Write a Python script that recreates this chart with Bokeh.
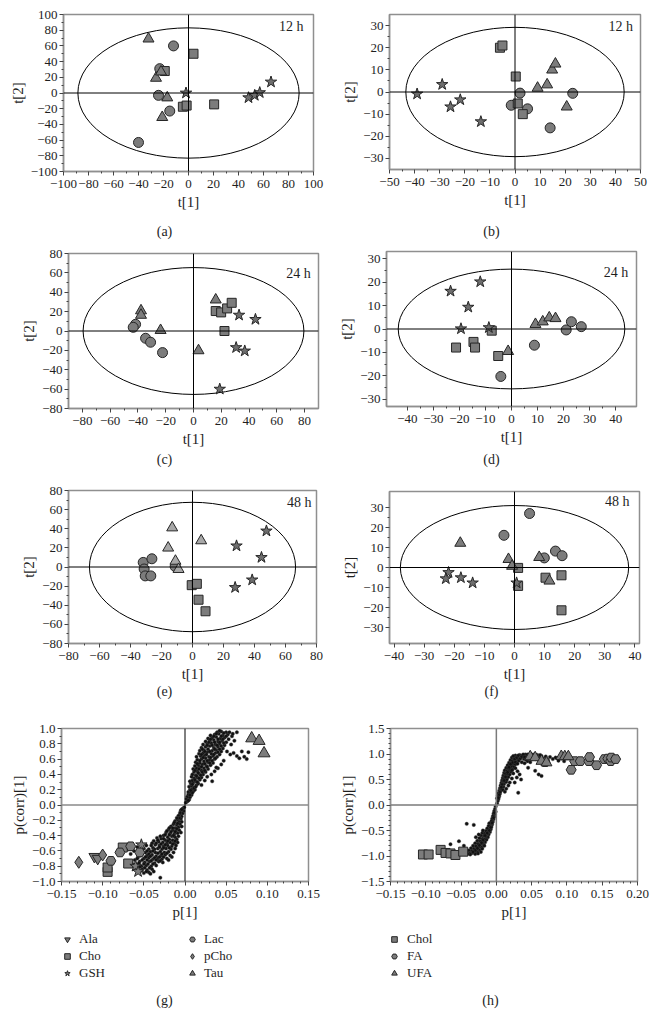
from bokeh.plotting import figure
from bokeh.layouts import column, row
from bokeh.models import (Span, Label, FixedTicker, CustomJSTickFormatter,
                          Legend, LegendItem, ColumnDataSource, Range1d)
from bokeh.embed import file_html
from bokeh.resources import INLINE

# ---------------- data ----------------
a_circles = [(-12, 60), (-23, 31), (-24, -3), (-15, -23), (-40, -63)]
a_squares = [(4, 50), (-19, 28), (-4.5, -17.5), (-1.5, -16), (20.5, -14.5)]
a_triangles = [(-32, 69), (-26, 19), (-22, 27), (-17, -6), (-21, -31)]
a_stars = [(-2, 0), (48, -6), (53, -3), (57, 0.5), (66, 14)]

b_circles = [(2, -0.5), (-1.5, -6), (5, -7.6), (14, -16.2), (23, -0.6)]
b_squares = [(-6, 20), (-5, 21), (0.3, 7), (1.1, -5.2), (3.1, -10)]
b_triangles = [(9, 1.8), (12.8, 3.3), (14.8, 10), (16.1, 12.7), (20.6, -6.7)]
b_stars = [(-39, -0.9), (-29, 3.4), (-25.7, -6.7), (-21.8, -3.5), (-13.6, -13.4)]

c_circles = [(-41.7, 6.9), (-43.4, 3.8), (-34.5, -7.5), (-30.9, -11.6), (-22.3, -22.3)]
c_squares = [(16, 20.6), (19.9, 19.2), (24.2, 23.3), (27.5, 29.1), (22.3, 0)]
c_triangles = [(-37.8, 21), (-37.8, 16.4), (-23.7, 0.7), (3.6, -20.2), (16, 32.2)]
c_stars = [(32.8, 16.4), (44.6, 12), (30.7, -17.1), (36.9, -20.6), (18.9, -60)]

d_circles = [(-4.1, -20.2), (8.8, -6.9), (21, -0.4), (23, 3.1), (26.8, 1)]
d_squares = [(-21.3, -7.9), (-14.6, -5.5), (-14, -7.9), (-7.6, -0.7), (-5.1, -11.5)]
d_triangles = [(-1.3, -9.5), (9.2, 2), (12, 3.1), (14.5, 4.8), (16.9, 4.5)]
d_stars = [(-23.4, 16.1), (-12, 20.1), (-16.6, 9.3), (-19.4, 0.1), (-8.7, 0.6)]

e_circles = [(-31.8, 4.8), (-26.2, 8.6), (-31.2, -2.1), (-30.5, -9.3), (-26.9, -9.3), (-11.2, 0.5)]
e_squares = [(-0.5, -19), (2.8, -17.6), (3.9, -34.2), (8.4, -46.3)]
e_triangles = [(-13.1, 41.1), (-15.7, 20), (-11, 6.2), (-9, -2.4), (5.6, 27.6)]
e_stars = [(28.4, 22.1), (47.7, 37.7), (44.5, 10), (38.5, -13.5), (27.5, -21.4)]

f_circles = [(5, 27), (-3.5, 16.1), (9.9, 4.8), (13.6, 8.2), (15.8, 5.9)]
f_squares = [(1.2, -0.2), (10.3, -5.1), (15.6, -3.9), (15.6, -21.4), (1.2, -9.2)]
f_triangles = [(-18, 12.2), (-2, 4.1), (-0.8, 0.7), (8.2, 5.1), (11.6, -6.7)]
f_stars = [(-21.9, -2.5), (-22.8, -5.6), (-17.8, -5.1), (-13.9, -7.7), (0.7, -7.7)]

# Hotelling ellipse semi-axes per panel (x, y)
ellipses = {"a": (88.5, 83), "b": (43.5, 29.2), "c": (79.5, 65.5),
            "d": (43.5, 25.5), "e": (66.5, 67.7), "f": (37.9, 31)}
time_labels = {"a": "12 h", "b": "12 h", "c": "24 h", "d": "24 h", "e": "48 h", "f": "48 h"}

# S-plot (g)
g_ala = [(-0.110, -0.675), (-0.106, -0.70)]
g_cho = [(-0.094, -0.874), (-0.094, -0.817), (-0.069, -0.765), (-0.0756, -0.556)]
g_gsh = [(-0.060, -0.80), (-0.057, -0.87), (-0.053, -0.52)]
g_lac = [(-0.066, -0.54), (-0.090, -0.73), (-0.079, -0.62), (-0.055, -0.62)]
g_pcho = [(-0.129, -0.749), (-0.100, -0.654)]
g_tau = [(0.081, 0.871), (0.090, 0.837), (0.096, 0.675)]
g_dots = [
    (0.001, 0.03), (0.003, 0.05), (0.002, 0.08), (0.005, 0.07), (0.003, 0.11), (0.006, 0.10),
    (0.004, 0.14), (0.008, 0.13), (0.004, 0.17), (0.007, 0.16), (0.010, 0.18), (0.006, 0.20),
    (0.009, 0.21), (0.012, 0.20), (0.005, 0.24), (0.008, 0.25), (0.011, 0.23), (0.014, 0.26),
    (0.007, 0.28), (0.010, 0.29), (0.016, 0.28), (0.006, 0.31), (0.009, 0.32), (0.013, 0.31),
    (0.018, 0.33), (0.011, 0.35), (0.015, 0.36), (0.008, 0.37), (0.020, 0.36), (0.009, 0.40),
    (0.013, 0.39), (0.017, 0.41), (0.022, 0.40), (0.011, 0.43), (0.015, 0.44), (0.020, 0.45),
    (0.025, 0.43), (0.010, 0.47), (0.014, 0.48), (0.018, 0.49), (0.023, 0.48), (0.028, 0.47),
    (0.012, 0.51), (0.016, 0.52), (0.021, 0.53), (0.026, 0.51), (0.031, 0.52), (0.013, 0.56),
    (0.018, 0.55), (0.023, 0.57), (0.028, 0.56), (0.034, 0.55), (0.015, 0.59), (0.020, 0.60),
    (0.025, 0.61), (0.030, 0.59), (0.036, 0.60), (0.014, 0.63), (0.019, 0.64), (0.024, 0.65),
    (0.029, 0.63), (0.034, 0.64), (0.039, 0.63), (0.017, 0.67), (0.022, 0.68), (0.027, 0.69),
    (0.032, 0.67), (0.037, 0.68), (0.042, 0.66), (0.018, 0.71), (0.023, 0.72), (0.028, 0.73),
    (0.033, 0.71), (0.038, 0.72), (0.044, 0.70), (0.020, 0.75), (0.025, 0.76), (0.030, 0.77),
    (0.035, 0.75), (0.040, 0.76), (0.046, 0.74), (0.022, 0.79), (0.027, 0.80), (0.032, 0.81),
    (0.037, 0.79), (0.042, 0.80), (0.048, 0.78), (0.025, 0.83), (0.030, 0.84), (0.035, 0.85),
    (0.040, 0.83), (0.045, 0.84), (0.050, 0.82), (0.028, 0.87), (0.033, 0.88), (0.038, 0.89),
    (0.043, 0.87), (0.048, 0.88), (0.031, 0.91), (0.036, 0.92), (0.041, 0.93), (0.046, 0.91),
    (0.052, 0.92), (0.039, 0.95), (0.044, 0.96), (0.050, 0.95), (0.063, 0.95), (0.057, 0.90),
    (0.047, 0.58), (0.051, 0.70), (0.055, 0.66), (0.059, 0.68), (0.063, 0.64), (0.066, 0.61),
    (0.069, 0.70), (0.072, 0.63), (0.077, 0.69), (0.075, 0.60), (0.056, 0.79), (0.060, 0.84),
    (0.053, 0.86), (0.044, 0.53), (0.040, 0.48), (0.036, 0.44), (0.032, 0.40), (0.027, 0.37),
    (0.024, 0.32), (0.020, 0.26), (0.033, 0.31), (0.038, 0.49),
    (0.004, 0.06), (0.006, 0.13), (0.009, 0.16), (0.007, 0.19), (0.011, 0.22), (0.013, 0.24),
    (0.009, 0.27), (0.015, 0.30), (0.012, 0.33), (0.017, 0.35), (0.014, 0.38), (0.019, 0.39),
    (0.016, 0.42), (0.021, 0.43), (0.012, 0.45), (0.024, 0.45), (0.017, 0.47), (0.027, 0.50),
    (0.020, 0.50), (0.015, 0.54), (0.024, 0.54), (0.030, 0.55), (0.018, 0.58), (0.027, 0.58),
    (0.033, 0.58), (0.022, 0.62), (0.031, 0.62), (0.037, 0.61), (0.020, 0.66), (0.026, 0.66),
    (0.035, 0.66), (0.040, 0.69), (0.030, 0.70), (0.024, 0.70), (0.021, 0.73), (0.036, 0.73),
    (0.042, 0.73), (0.027, 0.78), (0.033, 0.78), (0.044, 0.77), (0.039, 0.78), (0.029, 0.82),
    (0.036, 0.82), (0.047, 0.81), (0.042, 0.82), (0.031, 0.86), (0.040, 0.86), (0.046, 0.86),
    (0.035, 0.90), (0.044, 0.90), (0.050, 0.90), (0.038, 0.93), (0.047, 0.94), (0.042, 0.97),
    (0.054, 0.95), (0.058, 0.93),
    (-0.001, -0.03), (-0.003, -0.05), (-0.002, -0.08), (-0.005, -0.07), (-0.003, -0.11),
    (-0.006, -0.12), (-0.004, -0.15), (-0.008, -0.14), (-0.005, -0.18), (-0.009, -0.19),
    (-0.007, -0.22), (-0.012, -0.21), (-0.004, -0.22), (-0.006, -0.25), (-0.010, -0.26),
    (-0.014, -0.25), (-0.008, -0.29), (-0.012, -0.30), (-0.017, -0.28), (-0.004, -0.28),
    (-0.007, -0.33), (-0.011, -0.34), (-0.015, -0.33), (-0.020, -0.32), (-0.009, -0.37),
    (-0.013, -0.38), (-0.018, -0.37), (-0.023, -0.36), (-0.005, -0.36), (-0.008, -0.41),
    (-0.012, -0.42), (-0.016, -0.41), (-0.021, -0.42), (-0.026, -0.40), (-0.010, -0.45),
    (-0.015, -0.46), (-0.019, -0.45), (-0.024, -0.46), (-0.029, -0.44), (-0.034, -0.43),
    (-0.009, -0.49), (-0.013, -0.50), (-0.018, -0.49), (-0.022, -0.50), (-0.027, -0.49),
    (-0.032, -0.48), (-0.038, -0.47), (-0.011, -0.53), (-0.016, -0.54), (-0.021, -0.53),
    (-0.026, -0.54), (-0.031, -0.53), (-0.036, -0.52), (-0.012, -0.57), (-0.017, -0.58),
    (-0.023, -0.57), (-0.028, -0.58), (-0.033, -0.57), (-0.039, -0.56), (-0.044, -0.58),
    (-0.014, -0.62), (-0.020, -0.61), (-0.025, -0.62), (-0.030, -0.61), (-0.036, -0.62),
    (-0.042, -0.61), (-0.048, -0.62), (-0.018, -0.66), (-0.024, -0.65), (-0.029, -0.66),
    (-0.035, -0.67), (-0.040, -0.65), (-0.046, -0.66), (-0.052, -0.64), (-0.022, -0.70),
    (-0.028, -0.71), (-0.033, -0.70), (-0.039, -0.71), (-0.044, -0.69), (-0.050, -0.70),
    (-0.057, -0.68), (-0.027, -0.75), (-0.032, -0.74), (-0.037, -0.76), (-0.043, -0.74),
    (-0.049, -0.75), (-0.055, -0.74), (-0.061, -0.72), (-0.035, -0.79), (-0.041, -0.80),
    (-0.047, -0.79), (-0.053, -0.80), (-0.059, -0.78), (-0.064, -0.77), (-0.040, -0.84),
    (-0.046, -0.85), (-0.052, -0.84), (-0.058, -0.83), (-0.044, -0.88), (-0.050, -0.89),
    (-0.038, -0.87), (-0.030, -0.95), (-0.066, -0.64), (-0.069, -0.58), (-0.062, -0.60),
    (-0.058, -0.55), (-0.050, -0.57), (-0.047, -0.53), (-0.040, -0.50), (-0.020, -0.72),
    (-0.016, -0.68),
    (-0.004, -0.06), (-0.006, -0.10), (-0.007, -0.17), (-0.010, -0.17), (-0.009, -0.24),
    (-0.013, -0.23), (-0.010, -0.31), (-0.015, -0.30), (-0.019, -0.30), (-0.012, -0.35),
    (-0.017, -0.35), (-0.022, -0.34), (-0.014, -0.40), (-0.019, -0.39), (-0.024, -0.39),
    (-0.030, -0.41), (-0.012, -0.47), (-0.021, -0.47), (-0.026, -0.44), (-0.033, -0.46),
    (-0.015, -0.51), (-0.024, -0.52), (-0.029, -0.51), (-0.035, -0.50), (-0.041, -0.53),
    (-0.019, -0.56), (-0.026, -0.56), (-0.031, -0.55), (-0.037, -0.58), (-0.046, -0.60),
    (-0.022, -0.63), (-0.028, -0.64), (-0.033, -0.63), (-0.039, -0.60), (-0.044, -0.64),
    (-0.054, -0.66), (-0.026, -0.68), (-0.031, -0.68), (-0.037, -0.69), (-0.042, -0.67),
    (-0.048, -0.68), (-0.030, -0.73), (-0.035, -0.72), (-0.041, -0.73), (-0.046, -0.72),
    (-0.052, -0.72), (-0.058, -0.70), (-0.039, -0.77), (-0.045, -0.77), (-0.050, -0.77),
    (-0.056, -0.76), (-0.043, -0.82), (-0.049, -0.82), (-0.055, -0.81), (-0.047, -0.87),
    (-0.053, -0.86), (-0.042, -0.90),
]

# S-plot (h)
h_chol = [(-0.104, -0.97), (-0.096, -0.97), (-0.079, -0.88), (-0.072, -0.94),
          (-0.065, -0.95), (-0.058, -0.98), (-0.047, -0.915)]
h_fa = [(0.106, 0.69), (0.111, 0.86), (0.119, 0.86), (0.131, 0.86), (0.132, 0.94),
        (0.142, 0.78), (0.069, 0.84), (0.153, 0.90), (0.158, 0.91), (0.162, 0.86),
        (0.163, 0.93), (0.169, 0.90)]
h_ufa = [(0.048, 0.948), (0.055, 0.93), (0.064, 0.86), (0.071, 0.83), (0.092, 0.954),
         (0.097, 0.95), (0.102, 0.95)]
h_dots = [
    (0.001, 0.03), (0.002, 0.08), (0.001, 0.13), (0.003, 0.12), (0.002, 0.18), (0.004, 0.17),
    (0.003, 0.23), (0.005, 0.22), (0.004, 0.28), (0.006, 0.27), (0.005, 0.33), (0.007, 0.32),
    (0.009, 0.30), (0.006, 0.38), (0.008, 0.37), (0.010, 0.36), (0.007, 0.43), (0.009, 0.42),
    (0.011, 0.41), (0.008, 0.48), (0.010, 0.47), (0.012, 0.46), (0.014, 0.45), (0.009, 0.53),
    (0.011, 0.52), (0.013, 0.51), (0.015, 0.50), (0.010, 0.58), (0.012, 0.57), (0.014, 0.56),
    (0.017, 0.55), (0.011, 0.63), (0.013, 0.62), (0.016, 0.61), (0.019, 0.60), (0.012, 0.68),
    (0.015, 0.67), (0.018, 0.66), (0.021, 0.65), (0.014, 0.73), (0.017, 0.72), (0.020, 0.71),
    (0.023, 0.70), (0.016, 0.78), (0.019, 0.77), (0.022, 0.76), (0.025, 0.75), (0.018, 0.83),
    (0.021, 0.82), (0.024, 0.81), (0.027, 0.80), (0.020, 0.88), (0.023, 0.87), (0.026, 0.86),
    (0.029, 0.85), (0.022, 0.93), (0.025, 0.92), (0.028, 0.91), (0.031, 0.90),
    (0.027, 0.97), (0.030, 0.95), (0.033, 0.98), (0.035, 0.93), (0.037, 0.97), (0.039, 0.90),
    (0.041, 0.99), (0.043, 0.94), (0.045, 0.97), (0.047, 0.91), (0.049, 0.98), (0.051, 0.94),
    (0.053, 0.97), (0.056, 0.90), (0.058, 0.98), (0.061, 0.93), (0.064, 0.96), (0.067, 0.91),
    (0.070, 0.95), (0.073, 0.88), (0.076, 0.94), (0.080, 0.90), (0.084, 0.93), (0.088, 0.87),
    (0.092, 0.91), (0.096, 0.86), (0.032, 0.87), (0.036, 0.84), (0.040, 0.82), (0.044, 0.86),
    (0.048, 0.84), (0.027, 0.72), (0.030, 0.66), (0.033, 0.60), (0.029, 0.54), (0.035, 0.50),
    (0.031, 0.24), (0.060, 0.60), (0.064, 0.57), (0.055, 0.67), (0.045, 0.73), (0.024, 0.62),
    (0.022, 0.52), (0.019, 0.44), (0.017, 0.38), (0.014, 0.32), (0.012, 0.26), (0.026, 0.44),
    (0.024, 0.96), (0.026, 0.90), (0.029, 0.93), (0.031, 0.97), (0.034, 0.91), (0.036, 0.95),
    (0.038, 0.99), (0.040, 0.94), (0.042, 0.89), (0.044, 0.99), (0.046, 0.94), (0.048, 0.96),
    (0.050, 0.90), (0.052, 0.99), (0.054, 0.93), (0.057, 0.95), (0.059, 0.91), (0.062, 0.98),
    (0.023, 0.83), (0.027, 0.84), (0.030, 0.81), (0.020, 0.80), (0.018, 0.74), (0.022, 0.68),
    (0.016, 0.64), (0.013, 0.55), (0.011, 0.48), (0.008, 0.40), (0.007, 0.35), (0.005, 0.25),
    (0.004, 0.20), (0.003, 0.14),
    (-0.001, -0.03), (-0.002, -0.08), (-0.001, -0.13), (-0.003, -0.12), (-0.002, -0.18),
    (-0.004, -0.17), (-0.003, -0.23), (-0.005, -0.22), (-0.004, -0.28), (-0.006, -0.27),
    (-0.005, -0.33), (-0.007, -0.32), (-0.006, -0.38), (-0.008, -0.37), (-0.010, -0.36),
    (-0.007, -0.43), (-0.009, -0.42), (-0.011, -0.41), (-0.008, -0.48), (-0.010, -0.47),
    (-0.013, -0.46), (-0.009, -0.53), (-0.012, -0.52), (-0.015, -0.51), (-0.011, -0.58),
    (-0.014, -0.57), (-0.017, -0.56), (-0.020, -0.55), (-0.012, -0.63), (-0.015, -0.62),
    (-0.018, -0.61), (-0.022, -0.60), (-0.014, -0.68), (-0.017, -0.67), (-0.020, -0.66),
    (-0.024, -0.65), (-0.016, -0.73), (-0.019, -0.72), (-0.023, -0.71), (-0.027, -0.70),
    (-0.018, -0.78), (-0.022, -0.77), (-0.026, -0.76), (-0.030, -0.75), (-0.021, -0.83),
    (-0.025, -0.82), (-0.029, -0.81), (-0.033, -0.80), (-0.024, -0.88), (-0.028, -0.87),
    (-0.032, -0.86), (-0.036, -0.85), (-0.022, -0.92), (-0.027, -0.92), (-0.031, -0.91),
    (-0.035, -0.90), (-0.039, -0.89), (-0.026, -0.95), (-0.030, -0.96), (-0.034, -0.94),
    (-0.038, -0.95), (-0.042, -0.93), (-0.045, -0.92), (-0.032, -0.39), (-0.042, -0.37),
    (-0.053, -0.71), (-0.065, -0.77), (-0.046, -0.80), (-0.019, -0.50), (-0.025, -0.58),
    (-0.029, -0.63),
    (-0.003, -0.15), (-0.004, -0.25), (-0.006, -0.35), (-0.008, -0.44), (-0.010, -0.50),
    (-0.013, -0.55), (-0.016, -0.60), (-0.019, -0.69), (-0.021, -0.74), (-0.024, -0.79),
    (-0.027, -0.85), (-0.030, -0.89), (-0.033, -0.92), (-0.037, -0.97), (-0.041, -0.96),
    (-0.020, -0.86), (-0.017, -0.80),
]

# tick values
a_xticks = list(range(-100, 101, 20)); a_yticks = list(range(-100, 101, 20))
b_xticks = list(range(-50, 51, 10)); b_yticks = list(range(-30, 31, 10))
c_xticks = list(range(-80, 81, 20)); c_yticks = list(range(-80, 81, 20))
d_xticks = list(range(-40, 41, 10)); d_yticks = list(range(-30, 31, 10))
e_xticks = list(range(-80, 81, 20)); e_yticks = list(range(-80, 81, 20))
f_xticks = list(range(-40, 41, 10)); f_yticks = list(range(-30, 31, 10))
g_xticks = [-0.15, -0.10, -0.05, 0.0, 0.05, 0.10, 0.15]
g_yticks = [-1.0, -0.8, -0.6, -0.4, -0.2, 0.0, 0.2, 0.4, 0.6, 0.8, 1.0]
h_xticks = [-0.15, -0.10, -0.05, 0.0, 0.05, 0.10, 0.15, 0.20]
h_yticks = [-1.5, -1.0, -0.5, 0.0, 0.5, 1.0, 1.5]

# ---------------- styling ----------------
SERIF = "Liberation Serif"
FILL = "#7c7c7c"
LIGHT = "#a8a8a8"
LINE = "#262626"
FRAME = "#8f8f8f"
TXT = "#1e1e1e"


def minors(ticks, n):
    out = []
    for a, b in zip(ticks[:-1], ticks[1:]):
        for k in range(1, n + 1):
            out.append(a + (b - a) * k / (n + 1))
    return out


def fmt(dec):
    return CustomJSTickFormatter(args=dict(n=dec), code="""
        const s = tick.toFixed(n);
        if (Number(s) == 0) { return s.replace('-', ''); }
        return s.startsWith('-') ? '\\u2212' + s.slice(1) : s;
    """)


def make_fig(w, h, bl, br, bt, bb, xr, yr, xt, yt, xmin_n, ymin_n, xdec, ydec, xlab, ylab):
    p = figure(width=w, height=h, x_range=Range1d(*xr), y_range=Range1d(*yr),
               output_backend="svg", toolbar_location=None,
               min_border_left=bl, min_border_right=br, min_border_top=bt, min_border_bottom=bb)
    p.xgrid.visible = False
    p.ygrid.visible = False
    p.outline_line_color = FRAME
    p.outline_line_width = 1.5
    p.background_fill_color = "white"
    p.border_fill_color = "white"
    p.xaxis.ticker = FixedTicker(ticks=xt, minor_ticks=minors(xt, xmin_n))
    p.yaxis.ticker = FixedTicker(ticks=yt, minor_ticks=minors(yt, ymin_n))
    p.xaxis.formatter = fmt(xdec)
    p.yaxis.formatter = fmt(ydec)
    p.xaxis.axis_label = xlab
    p.yaxis.axis_label = ylab
    for ax in (p.xaxis[0], p.yaxis[0]):
        ax.axis_line_color = FRAME
        ax.axis_line_width = 1.5
        ax.major_tick_line_color = "#444444"
        ax.minor_tick_line_color = "#444444"
        ax.major_tick_in = 0
        ax.major_tick_out = 4
        ax.minor_tick_in = 0
        ax.minor_tick_out = 2
        ax.major_label_text_font = SERIF
        ax.major_label_text_font_size = "13px"
        ax.major_label_text_color = TXT
        ax.axis_label_text_font = SERIF
        ax.axis_label_text_font_size = "15px"
        ax.axis_label_text_font_style = "normal"
        ax.axis_label_text_color = TXT
    p.xaxis.major_label_standoff = 4
    p.xaxis.axis_label_standoff = 3
    p.yaxis.major_label_standoff = 2
    p.yaxis.axis_label_standoff = 2
    return p


def add_group(p, pts, marker, size, fill=FILL, visible=True):
    src = ColumnDataSource(dict(x=[q[0] for q in pts], y=[q[1] for q in pts]))
    return p.scatter("x", "y", source=src, marker=marker, size=size,
                     fill_color=fill, line_color=LINE, line_width=1, visible=visible)


def blank_fig(height):
    # an empty strip; the column layout aligns its frame with the plot above it
    q = figure(width=328, height=height, x_range=Range1d(0, 1), y_range=Range1d(0, 1),
               output_backend="svg", toolbar_location=None, x_axis_type=None, y_axis_type=None,
               min_border=0)
    q.outline_line_color = None
    q.xgrid.visible = False
    q.ygrid.visible = False
    return q


def add_caption(q, text, x_from_frame_left, y_from_bottom):
    q.add_layout(Label(x=x_from_frame_left, y=y_from_bottom, x_units="screen",
                       y_units="screen", text=text, text_align="center", text_baseline="middle",
                       text_font=SERIF, text_font_size="14px", text_color=TXT))


def score_panel(key, geom, xr, yr, xt, yt, groups, lab_xy, cap_h, cap_x, cap_y, light_tri=False):
    w, h, bl, br, bt, bb = geom
    p = make_fig(w, h, bl, br, bt, bb, xr, yr, xt, yt, 1, 1, 0, 0, "t[1]", "t[2]")
    p.add_layout(Span(location=0, dimension="width", line_color="black", line_width=1))
    p.add_layout(Span(location=0, dimension="height", line_color="black", line_width=1))
    ax, ay = ellipses[key]
    p.ellipse(x=[0], y=[0], width=[2 * ax], height=[2 * ay], fill_alpha=0,
              line_color="black", line_width=1)
    circles, squares, triangles, stars = groups
    add_group(p, circles, "circle", 10)
    add_group(p, squares, "square", 9)
    add_group(p, triangles, "triangle", 11, LIGHT if light_tri else FILL)
    add_group(p, stars, "star", 12, "#6e6e6e")
    p.add_layout(Label(x=lab_xy[0], y=lab_xy[1], text=time_labels[key], text_align="right",
                       text_baseline="middle", text_font=SERIF, text_font_size="14px",
                       text_color=TXT))
    cap = blank_fig(cap_h)
    add_caption(cap, "(%s)" % key, cap_x - bl, cap_y)
    return column(p, cap)


pa = score_panel("a", (328, 215, 63, 15, 14, 44), (-100, 100), (-100, 100), a_xticks, a_yticks,
                 (a_circles, a_squares, a_triangles, a_stars), (92, 85), 25, 164, 9)
pb = score_panel("b", (328, 215, 61, 16, 14, 46), (-50, 50), (-35, 35), b_xticks, b_yticks,
                 (b_circles, b_squares, b_triangles, b_stars), (47, 29.7), 25, 163, 9)
pc = score_panel("c", (328, 210, 68, 10, 13, 42), (-90, 90), (-80, 80), c_xticks, c_yticks,
                 (c_circles, c_squares, c_triangles, c_stars), (84.5, 59.6), 20, 164, 11)
pd = score_panel("d", (328, 210, 58, 20, 11, 44), (-48, 48), (-33, 33), d_xticks, d_yticks,
                 (d_circles, d_squares, d_triangles, d_stars), (44.8, 24), 20, 163, 11)
pe = score_panel("e", (328, 214, 68, 12, 20, 40), (-80, 80), (-80, 80), e_xticks, e_yticks,
                 (e_circles, e_squares, e_triangles, e_stars), (76.8, 67.4), 16, 164, 9,
                 light_tri=True)
pf = score_panel("f", (328, 214, 61, 17, 21, 41), (-41.5, 41.5), (-38, 38), f_xticks, f_yticks,
                 (f_circles, f_squares, f_triangles, f_stars), (38.2, 32.9), 16, 163, 9)


def legend_fig(items, frame_left, loc_x, standoff, lwidth, ncols, cap, cap_x):
    q = blank_fig(83)
    legend_items = []
    for label, marker, pts in items:
        r = add_group(q, pts, marker, 6, visible=False)
        legend_items.append(LegendItem(label=label, renderers=[r]))
    leg = Legend(items=legend_items, orientation="vertical", ncols=ncols,
                 location=(loc_x - frame_left, 32),
                 margin=0, padding=0, spacing=1, glyph_width=14, glyph_height=14,
                 label_standoff=standoff, label_width=lwidth, label_height=13,
                 label_text_font=SERIF, label_text_font_size="13px", label_text_color=TXT,
                 background_fill_alpha=0, border_line_alpha=0, inactive_fill_alpha=0)
    q.add_layout(leg, "center")
    add_caption(q, cap, cap_x - frame_left, 13)
    return q


# (g)
pg = make_fig(328, 230, 61, 20, 28, 49, (-0.15, 0.15), (-1.0, 1.0), g_xticks, g_yticks,
              4, 1, 2, 1, "p[1]", "p(corr)[1]")
pg.add_layout(Span(location=0, dimension="width", line_color="#8a8a8a", line_width=1.5))
pg.add_layout(Span(location=0, dimension="height", line_color="black", line_width=1))
pg.scatter([q[0] for q in g_dots], [q[1] for q in g_dots], marker="circle", size=3.5,
           fill_color="#111111", line_color="#444444", line_width=0.4)
add_group(pg, g_ala, "inverted_triangle", 11)
add_group(pg, g_cho, "square", 9)
add_group(pg, g_gsh, "star", 12)
add_group(pg, g_lac, "hex", 10)
add_group(pg, g_pcho, "diamond", 12)
add_group(pg, g_tau, "triangle", 12)
lg = legend_fig([("Ala", "inverted_triangle", g_ala), ("Cho", "square", g_cho),
                 ("GSH", "star", g_gsh), ("Lac", "hex", g_lac),
                 ("pCho", "diamond", g_pcho), ("Tau", "triangle", g_tau)],
                61, 60, 5, 105, 2, "(g)", 164)

# (h)
ph = make_fig(328, 230, 62, 19, 28, 49, (-0.15, 0.20), (-1.5, 1.5), h_xticks, h_yticks,
              4, 4, 2, 1, "p[1]", "p(corr)[1]")
ph.add_layout(Span(location=0, dimension="width", line_color="#7a7a7a", line_width=1.5))
ph.add_layout(Span(location=0, dimension="height", line_color="#7a7a7a", line_width=1.5))
ph.scatter([q[0] for q in h_dots], [q[1] for q in h_dots], marker="circle", size=3.5,
           fill_color="#111111", line_color="#444444", line_width=0.4)
add_group(ph, h_chol, "square", 9)
add_group(ph, h_fa, "hex", 10)
add_group(ph, h_ufa, "triangle", 11)
lh = legend_fig([("Chol", "square", h_chol), ("FA", "hex", h_fa), ("UFA", "triangle", h_ufa)],
                62, 59, 6, 40, 1, "(h)", 162)

layout = column(row(pa, pb), row(pc, pd), row(pe, pf),
                row(column(pg, lg), column(ph, lh)))
open("out.html", "w", encoding="utf-8").write(file_html(layout, INLINE))
